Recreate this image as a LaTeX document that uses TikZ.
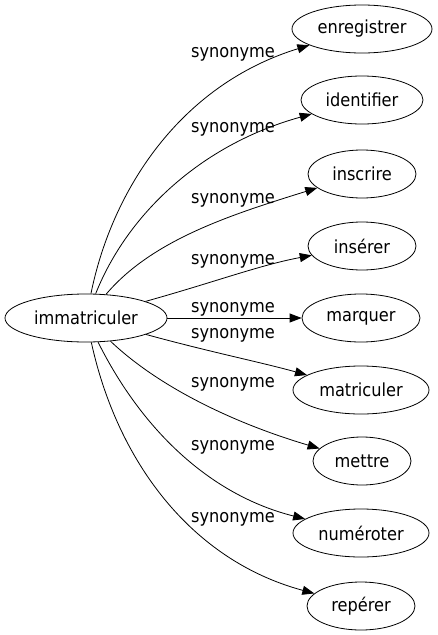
\documentclass[tikz,border=0pt]{standalone}
\usepackage{fontspec}
\setmainfont{DejaVu Sans Condensed}
\usetikzlibrary{arrows.meta, shapes}

\begin{document}
\begin{tikzpicture}[x=1pt, y=-1pt,
		word/.style={draw, ellipse, inner sep=0pt, minimum height=48pt, line width=.8pt, font=\fontsize{18}{20}\selectfont},
		rel/.style={inner sep=0pt, font=\fontsize{18}{20}\selectfont},
		syn/.style={-{Triangle[length=12pt,width=9pt]}, line width=.8pt}]
	\useasboundingbox (0,0) rectangle (437,635);
	\node[word, minimum width=162pt] (immatriculer) at (86,318) {immatriculer};
	\node[word, minimum width=140pt] (enregistrer) at (362,29) {enregistrer};
	\node[word, minimum width=122pt] (identifier) at (362,100) {identifier};
	\node[word, minimum width=108pt] (inscrire) at (362,174) {inscrire};
	\node[word, minimum width=108pt] (inserer) at (362,246) {insérer};
	\node[word, minimum width=118pt] (marquer) at (361,318) {marquer};
	\node[word, minimum width=136pt] (matriculer) at (361,390) {matriculer};
	\node[word, minimum width=98pt] (mettre) at (362,461) {mettre};
	\node[word, minimum width=136pt] (numeroter) at (361,533) {numéroter};
	\node[word, minimum width=108pt] (reperer) at (361,606) {repérer};

	\draw[syn] (immatriculer) .. controls (112,190) and (180,85) .. (enregistrer);
	\draw[syn] (immatriculer) .. controls (127,215) and (200,145) .. (identifier);
	\draw[syn] (immatriculer) .. controls (152,240) and (230,215) .. (inscrire);
	\draw[syn] (immatriculer) .. controls (215,282) and (260,265) .. (inserer);
	\draw[syn] (immatriculer) -- (marquer);
	\draw[syn] (immatriculer) .. controls (210,352) and (260,362) .. (matriculer);
	\draw[syn] (immatriculer) .. controls (162,390) and (240,425) .. (mettre);
	\draw[syn] (immatriculer) .. controls (142,430) and (210,495) .. (numeroter);
	\draw[syn] (immatriculer) .. controls (117,460) and (190,560) .. (reperer);

	\node[rel] (s1) at (233,54) {synonyme};
	\node[rel] (s2) at (233,129) {synonyme};
	\node[rel] (s3) at (233,200) {synonyme};
	\node[rel] (s4) at (233,261) {synonyme};
	\node[rel] (s5) at (233,309) {synonyme};
	\node[rel] (s6) at (233,335) {synonyme};
	\node[rel] (s7) at (233,384) {synonyme};
	\node[rel] (s8) at (233,447) {synonyme};
	\node[rel] (s9) at (233,519) {synonyme};
\end{tikzpicture}
\end{document}
